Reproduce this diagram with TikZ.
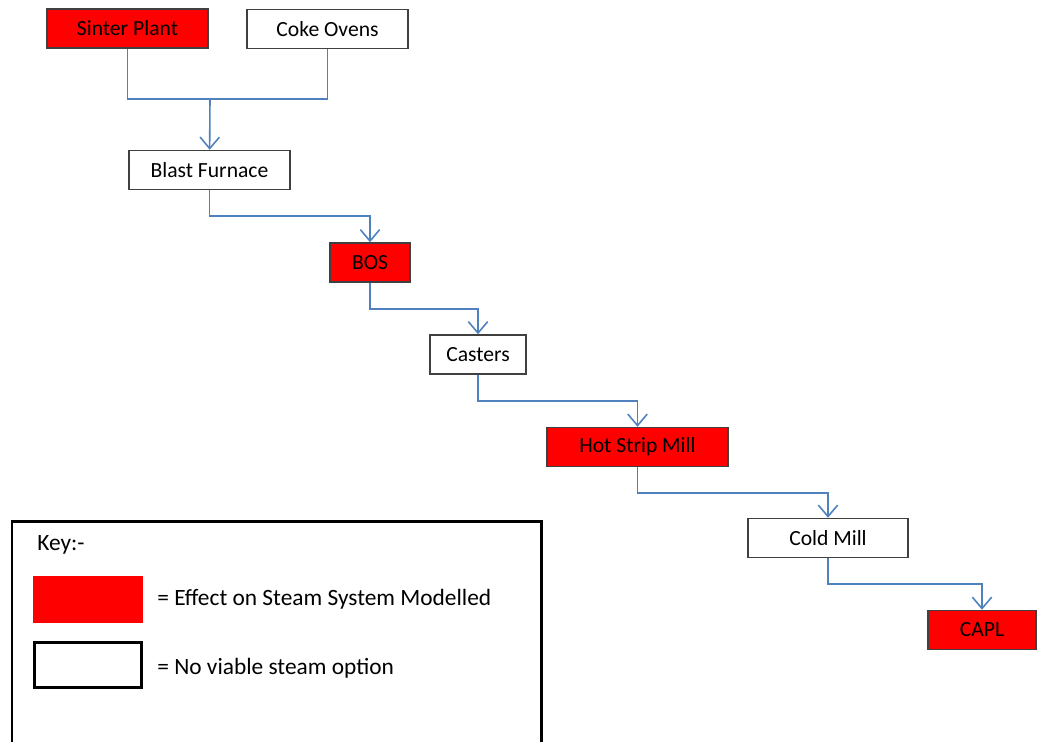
\documentclass[tikz,border=0pt]{standalone}
\usepackage{fontspec}
\setmainfont{Carlito}
\usetikzlibrary{arrows.meta}
\definecolor{boxred}{RGB}{255,0,0}
\definecolor{flowblue}{RGB}{79,129,189}
\definecolor{edgegray}{RGB}{64,64,64}
\tikzset{
  stage/.style={draw=edgegray, line width=0.85pt, minimum height=0.78cm, inner sep=0pt, font=\fontsize{12.3}{14}\selectfont},
  modelled/.style={stage, fill=boxred},
  noopt/.style={stage, fill=white},
  pipe/.style={draw=flowblue, line width=0.9pt},
  flow/.style={pipe, -{Straight Barb[length=6.5pt, width=11pt]}},
  keytext/.style={anchor=west, inner sep=0pt, font=\fontsize{13.3}{16}\selectfont},
}
\begin{document}
\begin{tikzpicture}[x=0.02cm, y=-0.02cm]
\useasboundingbox (0,0) rectangle (1037,741);
% process stages
\node[modelled, minimum width=3.22cm] (sinter) at (127.5,28.5) {Sinter Plant};
\node[noopt, minimum width=3.22cm] (coke) at (327.5,29) {Coke Ovens};
\node[noopt, minimum width=3.22cm] (blast) at (209.5,170) {Blast Furnace};
\node[modelled, minimum width=1.6cm] (bos) at (370,262.5) {BOS};
\node[noopt, minimum width=1.92cm] (cast) at (478,354.5) {Casters};
\node[modelled, minimum width=3.62cm] (hsm) at (637.5,447) {Hot Strip Mill};
\node[noopt, minimum width=3.2cm] (cold) at (828,538) {Cold Mill};
\node[modelled, minimum width=2.16cm] (capl) at (982,630) {CAPL};
% flows
\coordinate (merge) at (210,99);
\draw[pipe] (sinter) |- (merge) -| (coke);
\draw[flow] (merge) -- (blast);
\foreach \a/\b in {blast/bos, bos/cast, cast/hsm, hsm/cold, cold/capl}
  \draw[flow] (\a.south) -- ++(0,26) -| (\b.north);
% key
\draw[line width=1.7pt] (12,745) |- (541,521) -- (541,745);
\node[keytext] (keytitle) at (37,545) {Key:-};
\node[fill=boxred, minimum width=2.2cm, minimum height=0.94cm, inner sep=0pt] (keyred) at (88,599.5) {};
\node[draw, fill=white, line width=1.7pt, minimum width=2.16cm, minimum height=0.9cm, inner sep=0pt] (keywhite) at (88,665) {};
\node[keytext] (keyredtxt) at (157,599) {= Effect on Steam System Modelled};
\node[keytext] (keywhitetxt) at (157,668) {= No viable steam option};
\end{tikzpicture}
\end{document}
